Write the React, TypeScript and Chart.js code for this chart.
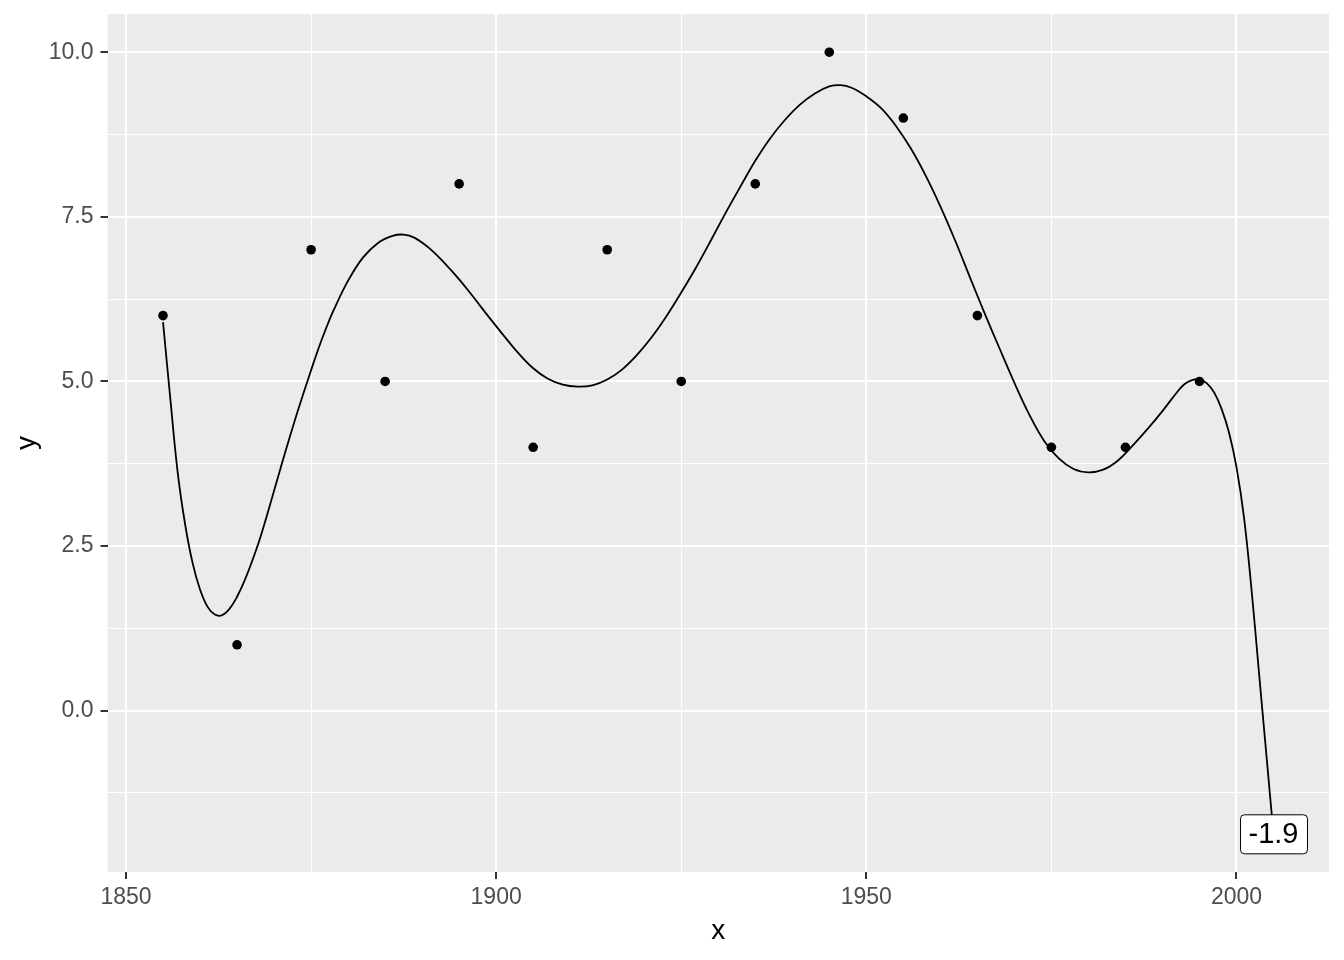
import React, { useEffect, useRef } from "react";
import { Chart, registerables } from "chart.js";

Chart.register(...registerables);

// Observed points
const pointX = [1855, 1865, 1875, 1885, 1895, 1905, 1915, 1925, 1935, 1945, 1955, 1965, 1975, 1985, 1995];
const pointY = [6, 1, 7, 5, 8, 4, 7, 5, 8, 10, 9, 6, 4, 4, 5];

// Smoothed curve
const curveX = [
  1855, 1856, 1857, 1858, 1859, 1860, 1861, 1862, 1863, 1864, 1865, 1866, 1867, 1868, 1869, 1870,
  1871, 1872, 1873, 1874, 1875, 1876, 1877, 1878, 1880, 1882, 1884, 1886, 1887.5, 1889, 1891, 1893,
  1895, 1897, 1899, 1901, 1903, 1905, 1907, 1909, 1911, 1913, 1915, 1917, 1919, 1921, 1923, 1925,
  1927, 1929, 1931, 1933, 1935, 1937, 1939, 1941, 1943, 1945, 1946.5, 1948, 1950, 1952, 1954, 1956,
  1958, 1960, 1962, 1964, 1966, 1968, 1970, 1972, 1974, 1976, 1978, 1980, 1982, 1984, 1986, 1988,
  1990, 1992, 1993, 1994, 1995, 1996, 1997, 1998, 1999, 2000, 2001, 2002, 2003, 2004, 2005,
];
const curveY = [
  5.9, 4.72, 3.6, 2.82, 2.24, 1.84, 1.58, 1.46, 1.45, 1.55, 1.73, 1.97, 2.26, 2.58, 2.95, 3.34,
  3.73, 4.11, 4.48, 4.83, 5.17, 5.5, 5.8, 6.07, 6.53, 6.88, 7.1, 7.21, 7.23, 7.18, 7.02, 6.8,
  6.55, 6.27, 5.98, 5.7, 5.43, 5.2, 5.04, 4.95, 4.92, 4.94, 5.03, 5.18, 5.4, 5.67, 5.99, 6.35,
  6.73, 7.14, 7.56, 7.96, 8.35, 8.69, 8.97, 9.2, 9.37, 9.48, 9.5, 9.46, 9.33, 9.15, 8.88, 8.54,
  8.13, 7.66, 7.14, 6.58, 6.03, 5.5, 4.98, 4.5, 4.1, 3.83, 3.67, 3.62, 3.66, 3.8, 4.03, 4.28,
  4.55, 4.84, 4.96, 5.02, 5.03, 4.97, 4.83, 4.58, 4.22, 3.7, 2.95, 1.88, 0.63, -0.62, -1.87,
];

// Label at curve end
const labelX = 2005;
const labelY = -1.87;
const labelText = "-1.9";

// Axes
const xMajor = [1850, 1900, 1950, 2000];
const xMinor = [1875, 1925, 1975];
const yMajor = [0, 2.5, 5, 7.5, 10];
const yMinor = [-1.25, 1.25, 3.75, 6.25, 8.75];
const xTitle = "x";
const yTitle = "y";

const FONT = "'Liberation Sans', Arial, sans-serif";

const panelBg = {
  id: "panelBg",
  beforeDraw(chart: any) {
    const { ctx, chartArea: a } = chart;
    ctx.save();
    ctx.fillStyle = "#EBEBEB";
    ctx.fillRect(a.left, a.top, a.right - a.left, a.bottom - a.top);
    ctx.restore();
  },
};

const endLabel = {
  id: "endLabel",
  afterDatasetsDraw(chart: any) {
    const { ctx } = chart;
    const px = chart.scales.x.getPixelForValue(labelX);
    const py = chart.scales.y.getPixelForValue(labelY);
    ctx.save();
    ctx.font = `29px ${FONT}`;
    const tw = ctx.measureText(labelText).width;
    const pad = 8.5;
    const w = tw + pad * 2;
    const h = 39;
    const x0 = px - w / 2;
    const y0 = py - h / 2;
    ctx.beginPath();
    (ctx as any).roundRect(x0 + 0.5, y0 + 0.5, w, h, 4);
    ctx.fillStyle = "#FFFFFF";
    ctx.fill();
    ctx.lineWidth = 1;
    ctx.strokeStyle = "#000000";
    ctx.stroke();
    ctx.fillStyle = "#000000";
    ctx.textAlign = "center";
    ctx.textBaseline = "middle";
    ctx.fillText(labelText, px, py + 1);
    ctx.restore();
  },
};

export default function App() {
  const ref = useRef<HTMLCanvasElement | null>(null);

  useEffect(() => {
    if (!ref.current) return;
    const chart = new Chart(ref.current, {
      type: "line",
      data: {
        datasets: [
          {
            type: "scatter",
            data: pointX.map((x, i) => ({ x, y: pointY[i] })),
            backgroundColor: "#000000",
            borderColor: "#000000",
            pointRadius: 4.8,
            pointBorderWidth: 0,
            showLine: false,
          } as any,
          {
            type: "line",
            data: curveX.map((x, i) => ({ x, y: curveY[i] })),
            borderColor: "#000000",
            borderWidth: 1.8,
            pointRadius: 0,
            tension: 0.4,
            fill: false,
          } as any,
        ],
      },
      options: {
        responsive: false,
        animation: false,
        devicePixelRatio: 1,
        events: [],
        layout: { padding: { top: 14, right: 15, bottom: 0, left: 0 } },
        plugins: { legend: { display: false }, tooltip: { enabled: false } },
        scales: {
          x: {
            type: "linear",
            min: 1847.5,
            max: 2012.5,
            afterBuildTicks: (s: any) => {
              s.ticks = [...xMinor, ...xMajor].map((v) => ({ value: v }));
            },
            afterFit: (s: any) => {
              s.height = 88;
              s.paddingLeft = 0;
              s.paddingRight = 0;
            },
            ticks: {
              autoSkip: false,
              maxRotation: 0,
              color: "#4D4D4D",
              font: { family: FONT, size: 23 },
              padding: 5,
              callback: (v: any) => (xMajor.includes(v) ? String(v) : ""),
            },
            grid: {
              color: "#FFFFFF",
              lineWidth: (c: any) => (xMajor.includes(c.tick?.value) ? 2 : 1),
              tickLength: 7,
              tickWidth: 2,
              tickColor: (c: any) => (xMajor.includes(c.tick?.value) ? "#333333" : "rgba(0,0,0,0)"),
            },
            border: { display: false },
            title: {
              display: true,
              text: xTitle,
              color: "#000000",
              font: { family: FONT, size: 28 },
              padding: { top: 0, bottom: 12 },
            },
          },
          y: {
            type: "linear",
            min: -2.45,
            max: 10.58,
            afterBuildTicks: (s: any) => {
              s.ticks = [...yMinor, ...yMajor].map((v) => ({ value: v }));
            },
            afterFit: (s: any) => {
              s.width = 107.5;
              s.paddingTop = 0;
              s.paddingBottom = 0;
            },
            ticks: {
              autoSkip: false,
              color: "#4D4D4D",
              font: { family: FONT, size: 23 },
              padding: 7,
              callback: (v: any) => (yMajor.includes(v) ? Number(v).toFixed(1) : ""),
            },
            grid: {
              color: "#FFFFFF",
              lineWidth: (c: any) => (yMajor.includes(c.tick?.value) ? 2 : 1),
              tickLength: 7,
              tickWidth: 2,
              tickColor: (c: any) => (yMajor.includes(c.tick?.value) ? "#333333" : "rgba(0,0,0,0)"),
            },
            border: { display: false },
            title: {
              display: true,
              text: yTitle,
              color: "#000000",
              font: { family: FONT, size: 28 },
              padding: { top: 10, bottom: 0 },
            },
          },
        },
      } as any,
      plugins: [panelBg, endLabel],
    });
    return () => chart.destroy();
  }, []);

  return (
    <div style={{ position: "fixed", left: 0, top: 0, width: 1344, height: 960, background: "#FFFFFF" }}>
      <canvas ref={ref} width={1344} height={960} style={{ width: 1344, height: 960, display: "block" }} />
    </div>
  );
}
